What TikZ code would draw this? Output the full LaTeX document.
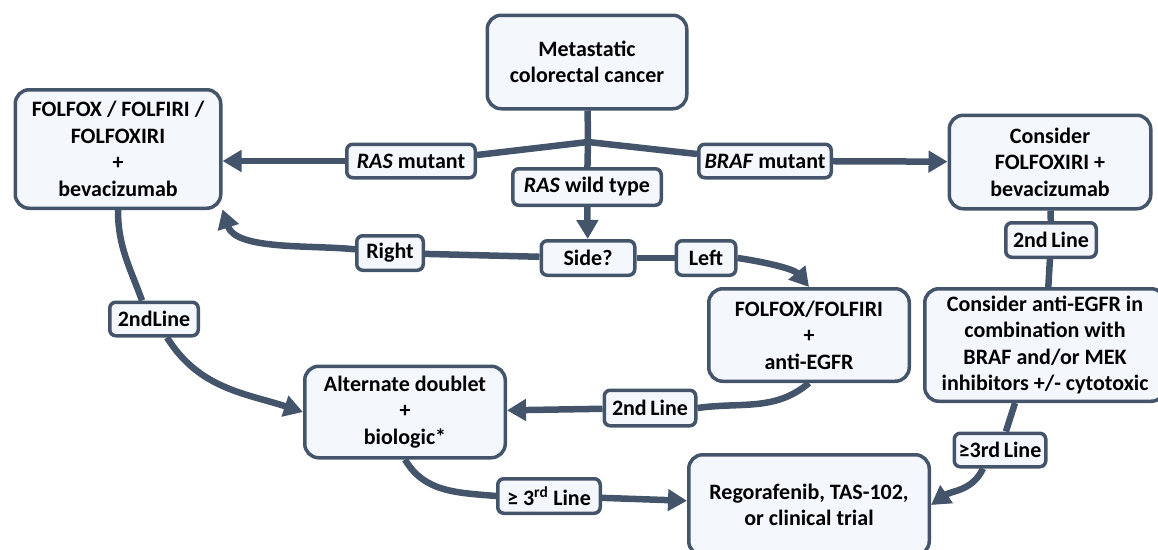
\documentclass[tikz,border=0pt]{standalone}
\usepackage{fontspec}
\setmainfont{Carlito}
\usetikzlibrary{arrows.meta}
\definecolor{linecol}{HTML}{44546A}
\definecolor{boxfill}{HTML}{F4F7FC}

\begin{document}
\begin{tikzpicture}[x=1pt,y=1pt,>={Triangle[length=19pt,width=21pt]}]
            \tikzstyle{box}=[draw=linecol, fill=boxfill, line width=3.5pt, rounded corners=14pt,
                             align=center, inner sep=0pt, font=\bfseries\fontsize{22}{26.5}\selectfont]
            \tikzstyle{tag}=[box, rounded corners=6pt]
            \tikzstyle{link}=[draw=linecol, line width=6.5pt]

            \useasboundingbox (0,0) rectangle (1158,-549);
            \clip (0,0) rectangle (1158,-549);

            % Draw the treatment boxes
            \node[box, minimum width=199.5pt, minimum height=93.5pt] (meta) at (587,-62) {Metastatic\\colorectal cancer};
            \node[box, minimum width=205.5pt, minimum height=118.5pt] (folfoxbev) at (118,-149) {FOLFOX / FOLFIRI /\\FOLFOXIRI\\+\\bevacizumab};
            \node[box, minimum width=201.5pt, minimum height=93.5pt] (braf) at (1050,-162) {Consider\\FOLFOXIRI +\\bevacizumab};
            \node[box, minimum width=200.5pt, minimum height=92.5pt] (antiegfr) at (809,-335) {FOLFOX/FOLFIRI\\+\\anti-EGFR};
            \node[box, minimum width=240.5pt, minimum height=112.5pt] (combo) at (1045,-345) {Consider anti-EGFR in\\combination with\\BRAF and/or MEK\\inhibitors +/- cytotoxic};
            \node[box, minimum width=200.5pt, minimum height=91.5pt] (alt) at (405,-412) {Alternate doublet\\+\\biologic*};
            \node[box, minimum width=240.5pt, minimum height=100.5pt] (rego) at (809,-505) {Regorafenib, TAS-102,\\or clinical trial};

            % Draw the branch labels
            \node[tag, minimum width=128.5pt, minimum height=33.5pt] (rasmut) at (411,-161) {\textit{RAS} mutant};
            \node[tag, minimum width=132.5pt, minimum height=33.5pt] (brafmut) at (765,-161) {\textit{BRAF} mutant};
            \node[tag, minimum width=148.5pt, minimum height=36.5pt] (raswt) at (587,-187) {\textit{RAS} wild type};
            \node[tag, minimum width=93.5pt, minimum height=34.5pt] (side) at (588,-258) {Side?};
            \node[tag, minimum width=66.5pt, minimum height=34.5pt] (right) at (390,-253) {Right};
            \node[tag, minimum width=59.5pt, minimum height=34.5pt] (left) at (706,-258) {Left};
            \node[tag, minimum width=88.5pt, minimum height=33.5pt] (secondL) at (154,-319) {2ndLine};
            \node[tag, minimum width=91.5pt, minimum height=35.5pt] (secondM) at (650,-408) {2nd\,Line};
            \node[tag, minimum width=90.5pt, minimum height=34.5pt] (secondR) at (1051,-240) {2nd\,Line};
            \node[tag, minimum width=102.5pt, minimum height=34.5pt] (thirdL) at (549,-496) {≥ 3\textsuperscript{rd} Line};
            \node[tag, minimum width=91.5pt, minimum height=33.5pt] (thirdR) at (1000,-450) {≥3rd\,Line};

            % Split below the first box
            \coordinate (fork) at (588,-142);
            \draw[link] (meta) -- (fork) -- (raswt);
            \draw[link] (fork) -- ([yshift=6pt]rasmut.east);
            \draw[link] (fork) -- ([yshift=7pt]brafmut.west);
            \draw[link,->] (rasmut.west) -- (rasmut.west -| folfoxbev.east);
            \draw[link,->] (brafmut) -- (braf);

            % RAS wild type: sidedness
            \draw[link,->] (raswt) -- (side);
            \draw[link] (side) -- (right);
            \draw[link,->] (right) to[out=174,in=-72,looseness=0.8] (folfoxbev.-30);
            \draw[link] (side) -- (left);
            \draw[link,->] (left.east) to[out=-8,in=130,looseness=0.8] (antiegfr.north);

            % Second line
            \draw[link] (folfoxbev.south) to[out=-90,in=110] ([xshift=-12pt]secondL.north);
            \draw[link,->] ([xshift=13pt]secondL.south) to[out=-58,in=162] (alt.west);
            \draw[link] (antiegfr.south) to[out=-140,in=8] (secondM.east);
            \draw[link,->] (secondM) -- (alt);
            \draw[link] (braf) -- (secondR);
            \draw[link] (secondR) -- (combo);

            % Third line and beyond
            \draw[link] (alt.south) to[out=-60,in=175] (thirdL.west);
            \draw[link,->] (thirdL) -- (rego);
            \draw[link] ([xshift=-30pt]combo.south) -- (thirdR);
            \draw[link,->] ([xshift=-17pt]thirdR.south) to[out=-115,in=35] (rego.east);
        \end{tikzpicture}
\end{document}
